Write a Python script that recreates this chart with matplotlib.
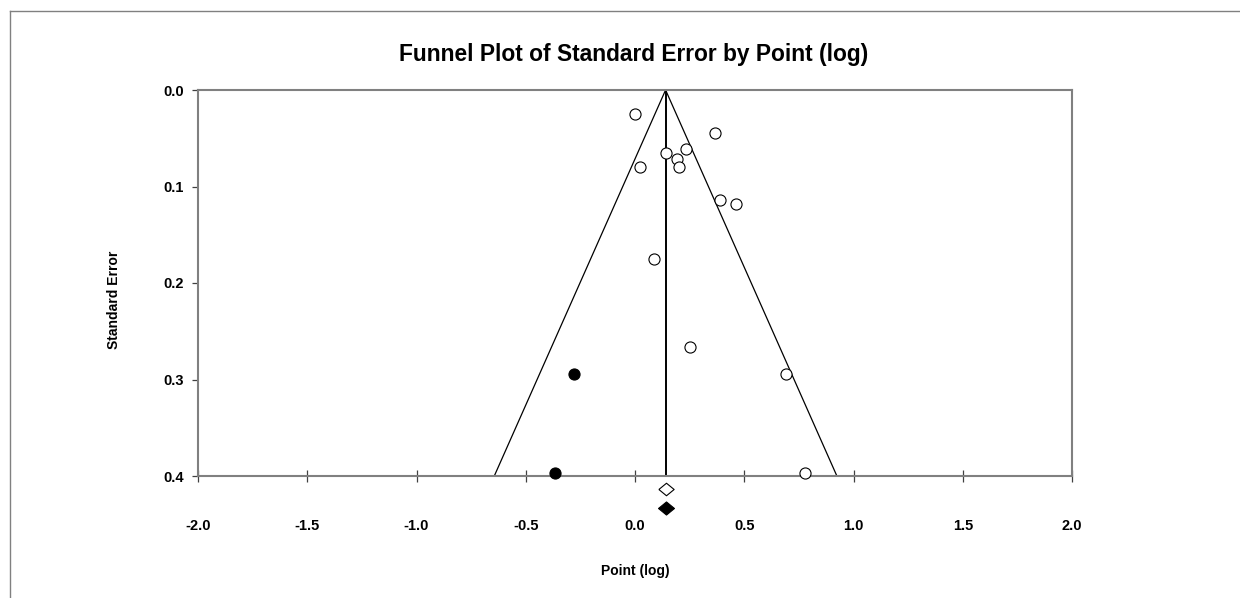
import matplotlib
matplotlib.use("Agg")
import matplotlib.pyplot as plt
from matplotlib.lines import Line2D

plt.rcParams['font.family'] = ['Liberation Sans', 'DejaVu Sans']

# Data
open_x = [0.00, 0.365, 0.14, 0.233, 0.192, 0.20, 0.021, 0.391, 0.461, 0.087, 0.254, 0.689, 0.779]
open_se = [0.025, 0.0446, 0.065, 0.0615, 0.0718, 0.080, 0.0798, 0.114, 0.1178, 0.175, 0.2667, 0.294, 0.397]
filled_x = [-0.278, -0.367]
filled_se = [0.294, 0.397]
summary_point = 0.14
summary_open_y = 0.4135
summary_filled_y = 0.433
se_max = 0.4
z = 1.96
xticks = [-2.0, -1.5, -1.0, -0.5, 0.0, 0.5, 1.0, 1.5, 2.0]
yticks = [0.0, 0.1, 0.2, 0.3, 0.4]

W, H = 1240, 598
fig = plt.figure(figsize=(W/100, H/100), dpi=100)
ax_left, ax_right, ax_top, ax_bottom = 198, 1072, 90, 476
ax = fig.add_axes([ax_left/W, 1-ax_bottom/H, (ax_right-ax_left)/W, (ax_bottom-ax_top)/H])

# Funnel
ax.plot([summary_point - z*se_max, summary_point, summary_point + z*se_max],
        [se_max, 0.0, se_max], color='black', lw=0.9, zorder=2)
ax.plot([summary_point, summary_point], [0.0, se_max], color='black', lw=1.4, zorder=2)

ax.plot(open_x, open_se, linestyle='none', marker='o', ms=8, mfc='white',
        mec='black', mew=0.8, zorder=3, clip_on=False)
ax.plot(filled_x, filled_se, linestyle='none', marker='o', ms=8, mfc='black',
        mec='black', mew=0.8, zorder=3, clip_on=False)

diamond = [(-1, 0), (0, 0.82), (1, 0), (0, -0.82), (-1, 0)]
ax.plot([summary_point], [summary_open_y], linestyle='none', marker=diamond, ms=11,
        mfc='white', mec='black', mew=0.8, clip_on=False, zorder=4)
ax.plot([summary_point], [summary_filled_y], linestyle='none', marker=diamond, ms=11.5,
        mfc='black', mec='black', mew=0.8, clip_on=False, zorder=4)

ax.set_xlim(-2.0, 2.0)
ax.set_ylim(0.4, 0.0)
ax.set_xticks(xticks)
ax.set_yticks(yticks)
ax.set_xticklabels([f"{v:.1f}" for v in xticks], fontsize=10.5, fontweight='bold')
ax.set_yticklabels([f"{v:.1f}" for v in yticks], fontsize=10.5, fontweight='bold')
ax.tick_params(axis='x', direction='inout', length=8, width=0.9, color='#404040', pad=27)
ax.tick_params(axis='y', direction='out', length=4, width=0.9, color='#404040', pad=6)

for s in ax.spines.values():
    s.set_color('#808080')
    s.set_linewidth(1.5)

ax.set_xlabel('Point (log)', fontsize=10, fontweight='bold', labelpad=22)

fig.text(114/W, 1-300/H, 'Standard Error', rotation=90, ha='center', va='center',
         fontsize=10, fontweight='bold')

fig.text(634/W, 1-55/H, 'Funnel Plot of Standard Error by Point (log)',
         ha='center', va='center', fontsize=16.4, fontweight='bold')

# outer frame lines (top and left)
fig.add_artist(Line2D([10/W, 1.0], [1-11/H, 1-11/H], transform=fig.transFigure,
                      color='#808080', lw=1.0))
fig.add_artist(Line2D([10/W, 10/W], [0.0, 1-11/H], transform=fig.transFigure,
                      color='#808080', lw=1.0))

fig.savefig('out.png', dpi=100)
